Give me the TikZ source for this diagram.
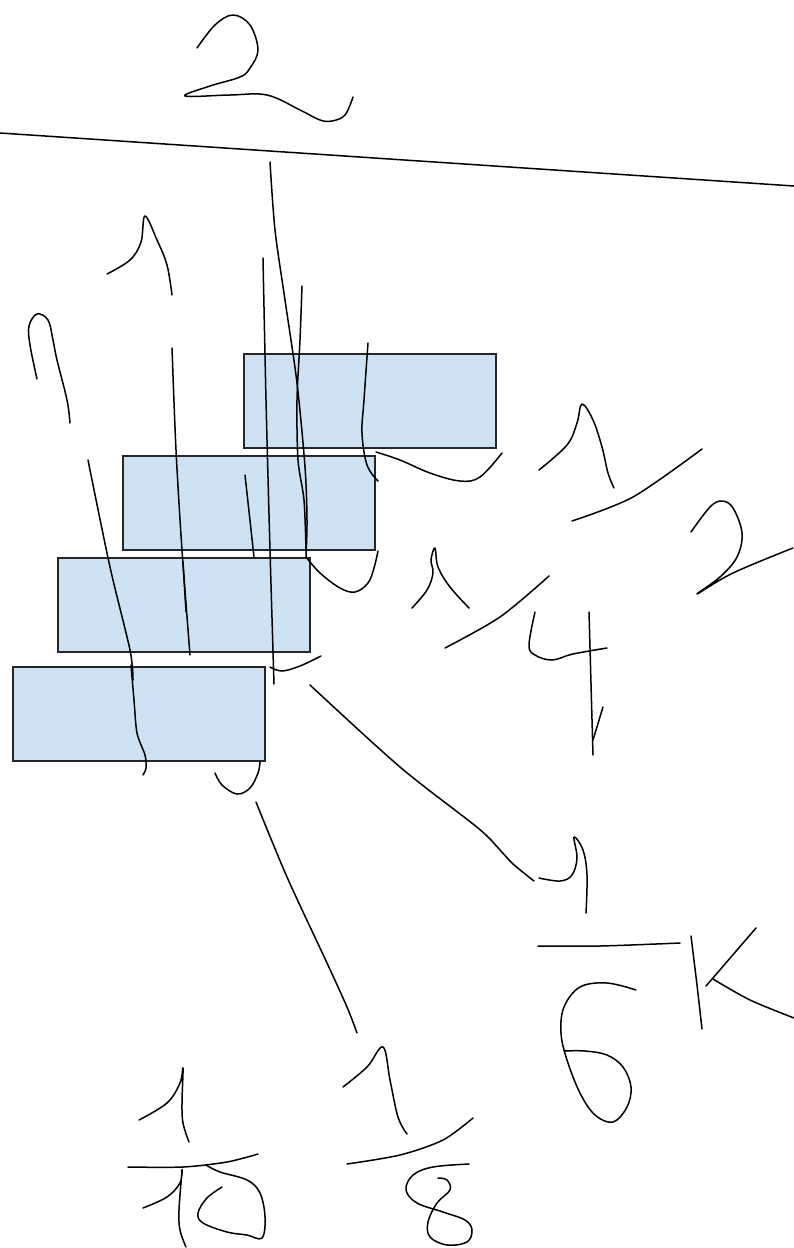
\documentclass[tikz,border=0pt]{standalone}
\begin{document}
\begin{tikzpicture}[x=1pt,y=-1pt,
  pen/.style={line width=1.5pt, line cap=round, line join=round, black},
  box/.style={draw=black!85, line width=1.5pt, fill={rgb,255:red,207;green,226;blue,243}, anchor=north west, minimum width=252pt, minimum height=94pt, inner sep=0pt, outer sep=0pt}]
\useasboundingbox (0,0) rectangle (794,1248);
% boxes
\node[box] (r1) at (244,354) {};
\node[box] (r2) at (123,456) {};
\node[box] (r3) at (58,558) {};
\node[box] (r4) at (13,667) {};
% top "2" and line
\draw[pen] plot[smooth, tension=0.6] coordinates {(197,48) (215,25) (233,15) (250,25) (258,50) (250,68) (240,77) (210,86) (185,96) (230,95) (267,95) (300,110) (320,120) (332,121) (345,115) (353,97)};
\coordinate (l1) at (0,133);
\coordinate (l2) at (794,186);
\draw[pen] (l1) -- (l2);
% long vertical strokes
\draw[pen] plot[smooth, tension=0.5] coordinates {(270,162) (275,230) (285,300) (297,383) (305,467) (307,520) (306,557)};
\draw[pen] plot[smooth, tension=0.6] coordinates {(306,557) (320,573) (340,588) (355,592) (368,583) (374,568) (378,551)};
\draw[pen] plot[smooth, tension=0.5] coordinates {(302,286) (300,340) (297,400) (298,460) (304,500) (306,550)};
\draw[pen] plot[smooth, tension=0.5] coordinates {(263,258) (266,400) (270,550) (274,684)};
\draw[pen] plot[smooth, tension=0.6] coordinates {(107,274) (130,260) (141,242) (145,216) (157,240) (167,265) (172,295)};
\draw[pen] plot[smooth, tension=0.5] coordinates {(172,348) (176,450) (182,550) (190,655)};
\draw[pen] (183,562) -- (186,612);
\draw[pen] plot[smooth, tension=0.6] coordinates {(37,379) (30,345) (29,326) (37,314) (48,320) (53,340) (57,360) (67,400) (70,423)};
\draw[pen] plot[smooth, tension=0.5] coordinates {(88,460) (110,567) (130,650) (133,680)};
\draw[pen] plot[smooth, tension=0.5] coordinates {(131,665) (134,700) (137,733) (145,755) (146,768) (143,775)};
\draw[pen] (245,475) -- (254,557);
\draw[pen] plot[smooth, tension=0.6] coordinates {(368,343) (364,400) (362,433) (367,465) (378,481)};
\draw[pen] plot[smooth, tension=0.6] coordinates {(376,452) (400,460) (430,473) (460,481) (480,477) (502,453)};
\draw[pen] plot[smooth, tension=0.6] coordinates {(270,667) (282,671) (300,666) (321,656)};
% diagonal to 1/6K
\draw[pen] plot[smooth, tension=0.5] coordinates {(310,685) (400,767) (478,828) (500,850) (513,864) (534,881)};
\draw[pen] plot[smooth, tension=0.6] coordinates {(539,878) (560,881) (572,875) (577,858) (574,837) (583,850) (587,875) (586,913)};
\draw[pen] plot[smooth, tension=0.5] coordinates {(538,946) (600,946) (680,943)};
\draw[pen] plot[smooth, tension=0.6] coordinates {(636,990) (607,983) (580,987) (564,1007) (561,1033) (567,1060) (580,1093) (595,1115) (613,1122) (627,1107) (631,1087) (623,1067) (607,1055) (585,1051) (564,1051)};
\draw[pen] plot[smooth, tension=0.5] coordinates {(691,936) (697,985) (702,1029)};
\draw[pen] (756,928) -- (706,986);
\draw[pen] plot[smooth, tension=0.5] coordinates {(713,979) (750,1000) (794,1018)};
% 1/2 right
\draw[pen] plot[smooth, tension=0.6] coordinates {(539,470) (567,445) (577,423) (582,404) (593,420) (602,447) (608,473) (614,488)};
\draw[pen] plot[smooth, tension=0.5] coordinates {(572,521) (633,497) (702,449)};
\draw[pen] plot[smooth, tension=0.6] coordinates {(691,532) (710,507) (722,501) (733,508) (742,533) (737,557) (720,577) (697,594) (733,573) (793,548)};
% 1/4
\draw[pen] plot[smooth, tension=0.6] coordinates {(412,608) (427,590) (433,573) (431,560) (435,548) (438,567) (450,587) (469,608)};
\draw[pen] plot[smooth, tension=0.5] coordinates {(445,648) (500,617) (549,576)};
\draw[pen] plot[smooth, tension=0.6] coordinates {(535,612) (529,645) (535,655) (552,660) (573,654) (607,648)};
\draw[pen] (589,612) -- (593,755);
\draw[pen] (603,707) -- (593,740);
% below boxes
\draw[pen] plot[smooth, tension=0.6] coordinates {(215,773) (222,785) (237,794) (250,788) (258,773) (260,762)};
\draw[pen] plot[smooth, tension=0.5] coordinates {(256,802) (287,877) (327,963) (347,1007) (357,1033)};
% 1/8
\draw[pen] plot[smooth, tension=0.6] coordinates {(343,1087) (367,1067) (383,1047) (390,1080) (398,1117) (407,1134)};
\draw[pen] plot[smooth, tension=0.5] coordinates {(347,1164) (400,1155) (443,1140) (473,1118)};
\draw[pen] plot[smooth, tension=0.6] coordinates {(469,1164) (433,1167) (413,1175) (406,1190) (417,1203) (443,1212) (465,1220) (472,1230) (467,1242) (447,1245) (430,1237) (428,1222) (437,1203) (450,1190) (447,1180) (438,1178)};
% 1/10
\draw[pen] plot[smooth, tension=0.6] coordinates {(139,1120) (167,1103) (180,1083) (183,1068) (182,1103) (183,1123) (189,1142)};
\draw[pen] plot[smooth, tension=0.5] coordinates {(128,1167) (183,1167) (227,1162) (258,1154)};
\draw[pen] plot[smooth, tension=0.6] coordinates {(143,1208) (167,1197) (180,1183) (182,1170) (179,1210) (180,1230) (186,1247)};
\draw[pen] plot[smooth, tension=0.6] coordinates {(222,1187) (207,1198) (198,1213) (203,1223) (227,1232) (247,1235) (262,1238) (265,1217) (260,1193) (247,1180) (220,1172) (206,1165)};
\end{tikzpicture}
\end{document}
